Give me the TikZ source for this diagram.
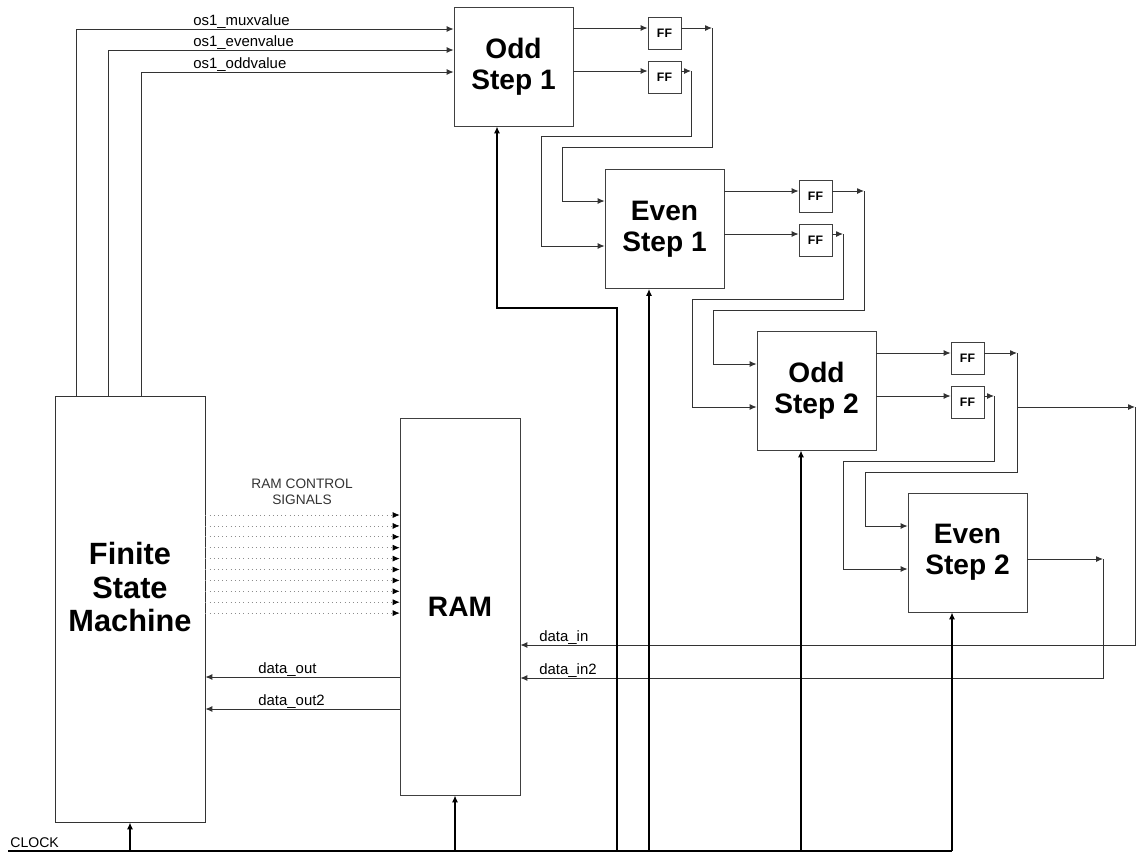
\documentclass[tikz,border=0pt]{standalone}
\usepackage{fontspec}
\setmainfont{Liberation Sans}
\usetikzlibrary{arrows.meta}
\tikzset{
  blk/.style={draw=black!75,fill=white,minimum width=23.8mm,minimum height=23.8mm,inner sep=0pt,align=center,font=\fontsize{16}{17.5}\selectfont\bfseries},
  fsmbox/.style={draw=black!80,minimum width=30mm,minimum height=85.2mm,inner sep=0pt},
  ffb/.style={draw=black!75,minimum width=6.6mm,minimum height=6.4mm,inner sep=0pt,font=\fontsize{7}{8}\selectfont\bfseries},
  wire/.style={draw=black!80,line width=0.55pt},
  tip/.style={-{Latex[length=1.4mm,width=1.2mm]}},
  clk/.style={draw=black,line width=1.1pt},
  ctl/.style={draw=black!45,dotted,line width=0.4pt,-{Latex[length=1.4mm,width=1.2mm,color=black]}},
  lbl/.style={font=\fontsize{8.5}{10}\selectfont,anchor=base west,inner sep=0pt},
}
\begin{document}
\begin{tikzpicture}[x=0.2mm,y=-0.2mm]
\useasboundingbox (0,0) rectangle (1138,852);
% blocks
\node[fsmbox] (fsm) at (130,609) {};
\node[align=center,font=\fontsize{17.5}{19}\selectfont\bfseries] (fsmtxt) at (130,587) {Finite\\State\\Machine};
\node[blk,minimum width=24mm,minimum height=75.4mm] (ram) at (460,606.5) {RAM};
\node[blk] (os1) at (513.5,66.5) {Odd\\Step 1};
\node[blk] (es1) at (664.5,229) {Even\\Step 1};
\node[blk] (os2) at (816.5,390.5) {Odd\\Step 2};
\node[blk] (es2) at (967.5,552.5) {Even\\Step 2};
\node[ffb] (ffa1) at (664.5,33.5) {FF};
\node[ffb] (ffa2) at (664.5,77) {FF};
\node[ffb] (ffb1) at (815.5,196) {FF};
\node[ffb] (ffb2) at (815.5,240) {FF};
\node[ffb] (ffc1) at (967.5,358.5) {FF};
\node[ffb] (ffc2) at (967.5,402) {FF};
% labels
\node[lbl] (lmux) at (193,25) {os1\_muxvalue};
\node[lbl] (leven) at (193,46) {os1\_evenvalue};
\node[lbl] (lodd) at (193,68) {os1\_oddvalue};
\node[lbl] (ldo) at (258,673) {data\_out};
\node[lbl] (ldo2) at (258,705) {data\_out2};
\node[lbl] (ldi) at (539,641) {data\_in};
\node[lbl] (ldi2) at (539,674) {data\_in2};
\node[lbl,font=\fontsize{8}{9}\selectfont] (lclk) at (10,847) {CLOCK};
\node[align=center,text=black!80,font=\fontsize{7.8}{9}\selectfont] (lctl) at (302,492) {RAM CONTROL\\SIGNALS};
% junctions
\coordinate (ja1) at (712,28);
\coordinate (ja2) at (691,71);
\coordinate (jb1) at (864,191);
\coordinate (jb2) at (843,234);
\coordinate (jc1) at (1017,353);
\coordinate (jc2) at (994,396);
\coordinate (jd) at (1103,559);
\coordinate (ckl) at (8,851);
\coordinate (ckr) at (952,851);
% fsm to odd step 1
\draw[wire,tip] (fsm.north -| 76,0) |- (os1.west |- 0,29);
\draw[wire,tip] (fsm.north -| 108,0) |- (os1.west |- 0,50);
\draw[wire,tip] (fsm.north -| 141,0) |- (os1.west |- 0,72);
% odd step 1
\draw[wire,tip] (os1.east |- ja1) -- (ffa1.west |- ja1);
\draw[wire,tip] (os1.east |- ja2) -- (ffa2.west |- ja2);
\draw[wire,tip] (ffa1.east |- ja1) -- (ja1);
\draw[wire,tip] (ffa2.east |- ja2) -- (ja2);
\draw[wire,tip] (ja1) |- (562,147) |- (es1.west |- 0,201);
\draw[wire,tip] (ja2) |- (541,136) |- (es1.west |- 0,246);
% even step 1
\draw[wire,tip] (es1.east |- jb1) -- (ffb1.west |- jb1);
\draw[wire,tip] (es1.east |- jb2) -- (ffb2.west |- jb2);
\draw[wire,tip] (ffb1.east |- jb1) -- (jb1);
\draw[wire,tip] (ffb2.east |- jb2) -- (jb2);
\draw[wire,tip] (jb1) |- (713,310) |- (os2.west |- 0,364);
\draw[wire,tip] (jb2) |- (692,299) |- (os2.west |- 0,407);
% odd step 2
\draw[wire,tip] (os2.east |- jc1) -- (ffc1.west |- jc1);
\draw[wire,tip] (os2.east |- jc2) -- (ffc2.west |- jc2);
\draw[wire,tip] (ffc1.east |- jc1) -- (jc1);
\draw[wire,tip] (ffc2.east |- jc2) -- (jc2);
\draw[wire,tip] (jc1) |- (865,472) |- (es2.west |- 0,526);
\draw[wire,tip] (jc2) |- (843,461) |- (es2.west |- 0,569);
\draw[wire,tip] (jc1 |- 0,407) -- (1135,407);
\draw[wire,tip] (1135,407) |- (ram.east |- 0,645);
% even step 2
\draw[wire,tip] (es2.east |- jd) -- (jd);
\draw[wire,tip] (jd) |- (ram.east |- 0,678);
% ram
\draw[wire,tip] (ram.west |- 0,677) -- (fsm.east |- 0,677);
\draw[wire,tip] (ram.west |- 0,709) -- (fsm.east |- 0,709);
\foreach \i [evaluate=\i as \yy using 515+10.9*\i] in {0,...,9}
  \draw[ctl] (fsm.east |- 0,\yy) -- (ram.west |- 0,\yy);
% clock
\draw[clk] (ckl) -- (ckr);
\draw[clk,tip] (ckl -| fsm.south) -- (fsm.south);
\draw[clk,tip] (ckl -| 455,0) -- (ram.south -| 455,0);
\draw[clk,tip] (ckl -| 617,0) |- (497,308) -- (os1.south -| 497,0);
\draw[clk,tip] (ckl -| 649,0) -- (es1.south -| 649,0);
\draw[clk,tip] (ckl -| 801,0) -- (os2.south -| 801,0);
\draw[clk,tip] (ckr) -- (es2.south -| 952,0);
\end{tikzpicture}
\end{document}
